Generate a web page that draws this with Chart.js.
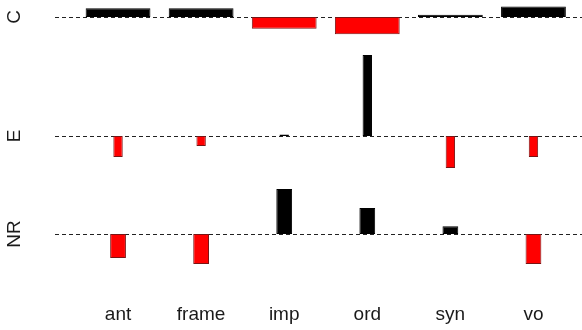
<!DOCTYPE html>
<html>
<head>
<meta charset="utf-8">
<script src="https://cdn.jsdelivr.net/npm/chart.js@4"></script>
<style>
  body { margin: 0; background: #fff; }
</style>
</head>
<body>
<canvas id="myChart" width="582" height="330"></canvas>
<script>
const categories = ['ant', 'frame', 'imp', 'ord', 'syn', 'vo'];
const rowLabels = ['C', 'E', 'NR'];
const rowOffsets = [0, -11.9, -21.7];

// residuals per row
const valuesC = [0.87, 0.87, -1.17, -1.73, 0.23, 1.06];
const valuesE = [-2.1, -1.0, 0.15, 8.1, -3.2, -2.1];
const valuesNR = [-2.4, -3.0, 4.5, 2.6, 0.77, -3.0];

const rowValues = [valuesC, valuesE, valuesNR];
const rowWidths = [0.78, 0.113, 0.19];

const fillFor = v => v >= 0 ? '#000000' : '#ff0000';
const borderFor = v => v >= 0 ? '#000000' : '#7a1414';

const datasets = rowValues.map((vals, r) => ({
    label: rowLabels[r],
    data: vals.map(v => [rowOffsets[r], rowOffsets[r] + v]),
    backgroundColor: vals.map(fillFor),
    borderColor: vals.map(borderFor),
    borderWidth: 1,
    borderSkipped: false,
    grouped: false,
    barPercentage: rowWidths[r],
    categoryPercentage: 1
}));

const baselines = {
    id: 'baselines',
    beforeDatasetsDraw(chart) {
        const c = chart.ctx;
        const y = chart.scales.y;
        c.save();
        c.strokeStyle = '#222';
        c.lineWidth = 1;
        c.setLineDash([4, 3]);
        rowOffsets.forEach(off => {
            const py = Math.round(y.getPixelForValue(off)) + 0.5;
            c.beginPath();
            c.moveTo(55, py);
            c.lineTo(chart.width, py);
            c.stroke();
        });
        c.restore();
    }
};

const ctx = document.getElementById('myChart').getContext('2d');
const myChart = new Chart(ctx, {
    type: 'bar',
    data: {
        labels: categories,
        datasets: datasets
    },
    options: {
        responsive: false,
        animation: false,
        layout: { padding: { left: 0, right: 7, top: 0, bottom: 0 } },
        plugins: {
            legend: { display: false },
            tooltip: { enabled: false }
        },
        scales: {
            x: {
                grid: { display: false },
                border: { display: false },
                ticks: {
                    color: '#1a1a1a',
                    padding: -5,
                    font: { family: 'Liberation Sans', size: 19 }
                },
                afterFit(scale) {
                    scale.height = 30;
                    scale.paddingLeft = 0;
                    scale.paddingRight = 0;
                }
            },
            y: {
                min: -28.3,
                max: 1.7,
                grid: { display: false },
                border: { display: false },
                afterBuildTicks(scale) {
                    scale.ticks = rowOffsets.map(v => ({ value: v }));
                },
                ticks: {
                    color: '#1a1a1a',
                    minRotation: 90,
                    maxRotation: 90,
                    crossAlign: 'center',
                    padding: 40,
                    font: { family: 'Liberation Sans', size: 19 },
                    callback: (v, i) => rowLabels[i]
                },
                afterFit(scale) {
                    scale.width = 76.5;
                    scale.paddingTop = 0;
                    scale.paddingBottom = 0;
                }
            }
        }
    },
    plugins: [baselines]
});
</script>
</body>
</html>
